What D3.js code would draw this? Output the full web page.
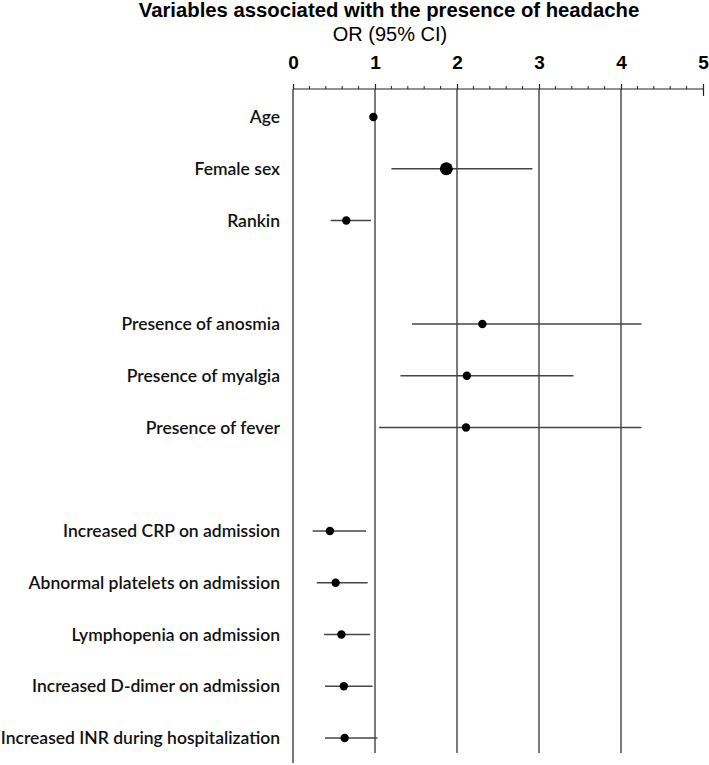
<!DOCTYPE html>
<html><head><meta charset="utf-8">
<script src="https://cdn.jsdelivr.net/npm/d3@7"></script>
<style>body{margin:0;background:#fff}</style>
</head><body>
<script>
const labels = ["Age","Female sex","Rankin","","Presence of anosmia","Presence of myalgia","Presence of fever","","Increased CRP on admission","Abnormal platelets on admission","Lymphopenia on admission","Increased D-dimer on admission","Increased INR during hospitalization"];
const orValues = [0.98,1.87,0.65,null,2.31,2.12,2.11,null,0.45,0.52,0.59,0.62,0.63];
const ciLow    = [0.97,1.20,0.46,null,1.45,1.31,1.05,null,0.24,0.29,0.38,0.39,0.39];
const ciHigh   = [0.99,2.92,0.95,null,4.25,3.42,4.25,null,0.89,0.91,0.94,0.97,1.03];
const bigPoint = [false,true,false,false,false,false,false,false,false,false,false,false,false];
const tickValues = [0,1,2,3,4,5];

const W=709,H=765;
const svg=d3.select("body").append("svg").attr("width",W).attr("height",H);
const x=d3.scaleLinear().domain([0,5]).range([293,703]);
const y=d3.scalePoint().domain(d3.range(labels.length)).range([117,738]);
const axisY=89;

svg.append("text").attr("x",389).attr("y",17).attr("text-anchor","middle")
  .attr("font-family","Liberation Sans, Arial, sans-serif").attr("font-weight","bold").attr("font-size",20.3)
  .text("Variables associated with the presence of headache");
svg.append("text").attr("x",390).attr("y",40.5).attr("text-anchor","middle")
  .attr("font-family","Liberation Sans, Arial, sans-serif").attr("font-size",20)
  .text("OR (95% CI)");

// gridlines
svg.append("g").selectAll("line").data([0,1,2,3,4]).join("line")
  .attr("x1",d=>x(d)).attr("x2",d=>x(d)).attr("y1",axisY).attr("y2",d=>d===0?763:753)
  .attr("stroke",d=>d===0?"#555":"#222").attr("stroke-width",d=>d===0?1.6:1.2);

// axis
const axis=d3.axisTop(x).tickValues(tickValues).tickSize(5).tickPadding(15).tickFormat(d3.format("d"));
const gA=svg.append("g").attr("transform",`translate(0,${axisY})`).call(axis);
gA.select(".domain").attr("stroke","#222").attr("stroke-width",1.2).attr("d",`M${x(0)},0H${x(5)}`);
gA.selectAll(".tick line").attr("stroke","#222").attr("stroke-width",1.2);
gA.selectAll(".tick text").attr("font-family","Liberation Sans, Arial, sans-serif").attr("font-size",19).attr("font-weight","bold").attr("fill","#000");
gA.selectAll(".tick").filter(d=>d===5).select("line").attr("y2",-5).attr("y1",7);
const minor=d3.range(0,5.001,0.2).map(v=>+v.toFixed(1)).filter(v=>!tickValues.includes(v));
svg.append("g").selectAll("line").data(minor).join("line")
  .attr("x1",d=>x(d)).attr("x2",d=>x(d)).attr("y1",axisY-3).attr("y2",axisY)
  .attr("stroke","#222").attr("stroke-width",1);

// labels
const idx=d3.range(labels.length);
svg.append("g").selectAll("text").data(idx.filter(i=>labels[i])).join("text")
  .attr("x",280).attr("y",i=>y(i)).attr("dy","0.35em").attr("text-anchor","end")
  .attr("font-family","Lato, Open Sans, sans-serif").attr("font-weight","600").attr("font-size",17.5).attr("fill","#111")
  .text(i=>labels[i]);

const rows=idx.filter(i=>orValues[i]!==null);
svg.append("g").selectAll("line").data(rows).join("line")
  .attr("x1",i=>x(ciLow[i])).attr("x2",i=>x(ciHigh[i])).attr("y1",i=>y(i)).attr("y2",i=>y(i))
  .attr("stroke","#444").attr("stroke-width",1.6);
svg.append("g").selectAll("circle").data(rows).join("circle")
  .attr("cx",i=>x(orValues[i])).attr("cy",i=>y(i)).attr("r",i=>bigPoint[i]?6.5:4.2).attr("fill","#000");
</script>
</body></html>
